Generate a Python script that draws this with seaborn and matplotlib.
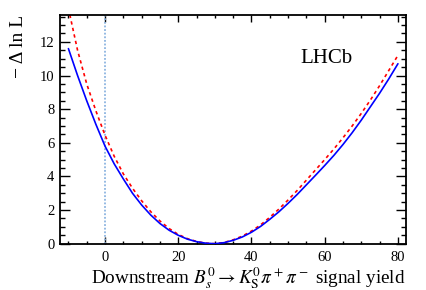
import numpy as np
import pandas as pd
import matplotlib
matplotlib.use("Agg")
import matplotlib.pyplot as plt
import seaborn as sns
from matplotlib.ticker import MultipleLocator

# Data
yield_vals = [-10, -7.5, -5, -2.5, 0, 2.5, 5, 7.5, 10, 12.5, 15, 17.5, 20, 22.5, 25, 27.5,
              30, 32.5, 35, 37.5, 40, 42.5, 45, 47.5, 50, 52.5, 55, 57.5, 60, 62.5, 65,
              67.5, 70, 72.5, 75, 77.5, 80]
nll_blue = [11.6, 10.0, 8.5, 7.1, 5.8, 4.75, 3.85, 3.0, 2.3, 1.7, 1.2, 0.8, 0.5, 0.27, 0.12, 0.03,
            0.0, 0.06, 0.2, 0.4, 0.68, 1.03, 1.45, 1.9, 2.4, 2.93, 3.5, 4.07, 4.65, 5.25, 5.9,
            6.6, 7.35, 8.15, 8.95, 9.8, 10.7]
nll_red = [14.0, 11.5, 9.5, 7.9, 6.45, 5.2, 4.15, 3.3, 2.55, 1.9, 1.35, 0.9, 0.55, 0.3, 0.13, 0.03,
           0.0, 0.07, 0.23, 0.45, 0.75, 1.12, 1.57, 2.06, 2.6, 3.17, 3.78, 4.39, 5.0, 5.63, 6.3,
           7.0, 7.75, 8.55, 9.4, 10.3, 11.2]
xlim = (-12.3, 82.2)
ylim = (0, 13.6)

sns.set_style("ticks")
plt.rcParams['font.family'] = ['Liberation Serif', 'DejaVu Serif']
plt.rcParams['mathtext.fontset'] = 'stix'
plt.rcParams['text.color'] = 'black'
plt.rcParams['axes.labelcolor'] = 'black'
plt.rcParams['xtick.color'] = 'black'
plt.rcParams['ytick.color'] = 'black'

fig = plt.figure(figsize=(4.27, 2.90), dpi=100)
ax = fig.add_axes([0.1405, 0.1597, 0.8103, 0.7886])

df = pd.DataFrame({"x": yield_vals, "blue": nll_blue, "red": nll_red})

ax.axvline(0, color="#8cb4e0", lw=1.3, ls=(0, (1, 1)), zorder=1)
sns.lineplot(data=df, x="x", y="red", ax=ax, color="#ff0000", lw=1.2,
             linestyle=(0, (2, 2)), zorder=2)
sns.lineplot(data=df, x="x", y="blue", ax=ax, color="#0000ff", lw=1.2, zorder=3)

ax.set_xlim(*xlim)
ax.set_ylim(*ylim)
ax.xaxis.set_major_locator(MultipleLocator(20))
ax.xaxis.set_minor_locator(MultipleLocator(5))
ax.yaxis.set_major_locator(MultipleLocator(2))
ax.yaxis.set_minor_locator(MultipleLocator(0.5))

ax.tick_params(axis="both", which="both", direction="in", top=True, right=True,
               labelsize=10.5, colors="black", width=1.0)
ax.tick_params(axis="y", which="major", length=7.2, pad=4)
ax.tick_params(axis="y", which="minor", length=3.6)
ax.tick_params(axis="x", which="major", length=4.7, pad=5)
ax.tick_params(axis="x", which="minor", length=2.5)
for s in ax.spines.values():
    s.set_linewidth(1.3)
    s.set_color("black")

ax.set_xlabel(r"Downstream $B_s^0 \rightarrow K_{\rm S}^0\pi^+\pi^-$ signal yield",
              fontsize=13.8, loc="right", labelpad=1)
ax.set_ylabel("− Δ ln L", fontsize=14, loc="top", labelpad=9)
ax.text(60.6, 11.0, "LHCb", fontsize=15, ha="center", va="center")

fig.savefig("out.png", dpi=100)
